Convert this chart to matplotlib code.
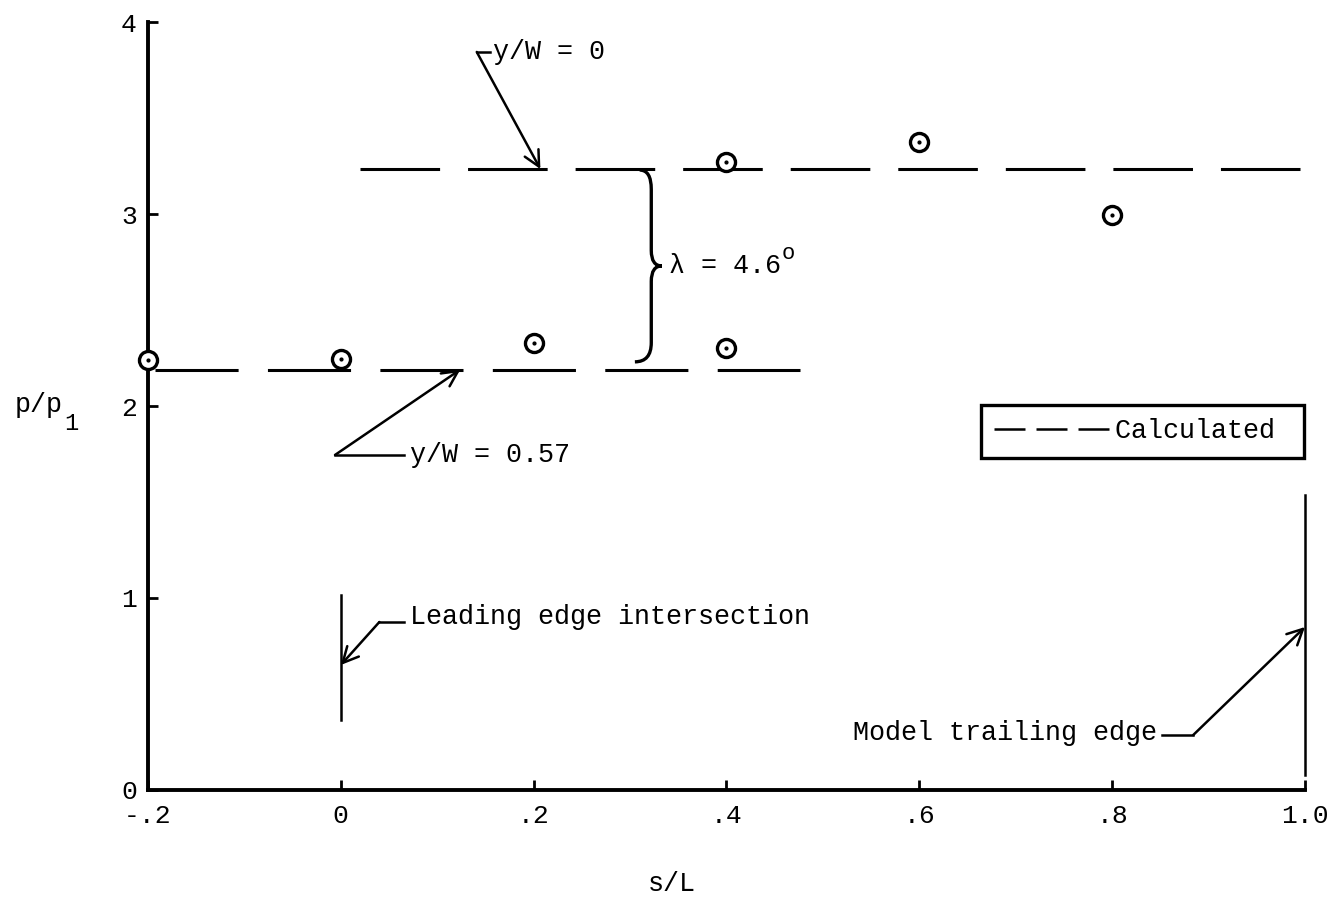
import matplotlib
matplotlib.use('Agg')
import matplotlib.pyplot as plt
from matplotlib.lines import Line2D
from matplotlib.path import Path
from matplotlib.patches import PathPatch

# Measured pressure ratios along the surface
s_meas = [-0.2, 0.0, 0.2, 0.4, 0.4, 0.6, 0.8]
p_meas = [2.24, 2.245, 2.33, 3.27, 2.30, 3.375, 2.995]

# Calculated levels for the two spanwise stations
calc_s_upper = [0.0198, 0.9946]
calc_p_upper = [3.234, 3.234]
calc_s_lower = [-0.1927, 0.4761]
calc_p_lower = [2.19, 2.19]

# Leading edge / trailing edge markers
s_leading = 0.0
s_trailing = 1.0

xticks = [-0.2, 0.0, 0.2, 0.4, 0.6, 0.8, 1.0]
xticklabels = ['-.2', '0', '.2', '.4', '.6', '.8', '1.0']
yticks = [0, 1, 2, 3, 4]
yticklabels = ['0', '1', '2', '3', '4']

plt.rcParams['font.family'] = ['Liberation Mono', 'DejaVu Sans Mono']

fig = plt.figure(figsize=(13.33, 9.17), dpi=100)
ax = fig.add_axes([0.111, 0.1385, 0.868, 0.8375])
ax.set_xlim(-0.2, 1.0)
ax.set_ylim(0, 4)

for side in ['top', 'right']:
    ax.spines[side].set_visible(False)
for side in ['left', 'bottom']:
    ax.spines[side].set_linewidth(2.8)

ax.set_xticks(xticks)
ax.set_xticklabels(xticklabels)
ax.set_yticks(yticks)
ax.set_yticklabels(yticklabels)
ax.tick_params(direction='in', length=7, width=2, labelsize=19)
ax.tick_params(axis='x', pad=10)
ax.tick_params(axis='y', pad=8)

ax.plot(calc_s_upper, calc_p_upper, color='black', lw=2.2, dashes=(26.05, 9.15))
ax.plot(calc_s_lower, calc_p_lower, color='black', lw=2.2, dashes=(27.2, 9.6))

ax.plot(s_meas, p_meas, 'o', ms=13, mfc='white', mec='black', mew=2.4,
        clip_on=False, zorder=5)
ax.plot(s_meas, p_meas, '.', ms=4, color='black', clip_on=False, zorder=6)

# edge marker lines
ax.plot([s_leading, s_leading], [0.365, 1.016], color='black', lw=1.8)
ax.plot([s_trailing, s_trailing], [0.078, 1.536], color='black', lw=1.8,
        clip_on=False)

arrow = dict(arrowstyle='->', color='black', lw=1.8, mutation_scale=28,
             shrinkA=0, shrinkB=0)
fs = 19.3

# y/W = 0
ax.plot([0.141, 0.155], [3.844, 3.844], color='black', lw=1.8)
ax.annotate('', xy=(0.207, calc_p_upper[0]), xytext=(0.141, 3.844),
            arrowprops=arrow)
ax.text(0.158, 3.844, 'y/W = 0', fontsize=fs, va='center')

# y/W = 0.57
ax.plot([-0.006, 0.066], [1.745, 1.745], color='black', lw=1.8)
ax.annotate('', xy=(0.124, calc_p_lower[0]), xytext=(-0.006, 1.745),
            arrowprops=arrow)
ax.text(0.072, 1.745, 'y/W = 0.57', fontsize=fs, va='center')

# leading edge
ax.plot([0.040, 0.066], [0.875, 0.875], color='black', lw=1.8)
ax.annotate('', xy=(s_leading, 0.651), xytext=(0.040, 0.875),
            arrowprops=arrow)
ax.text(0.072, 0.90, 'Leading edge intersection', fontsize=fs, va='center')

# trailing edge
ax.plot([0.852, 0.884], [0.286, 0.286], color='black', lw=1.8)
ax.annotate('', xy=(s_trailing, 0.849), xytext=(0.884, 0.286),
            arrowprops=arrow, annotation_clip=False)
ax.text(0.847, 0.297, 'Model trailing edge', fontsize=fs, va='center',
        ha='right')

# brace between the two calculated levels
ytop = calc_p_upper[0] - 0.005
ybot = calc_p_lower[0] + 0.04
ymid = 0.5 * (ytop + ybot)
x0, xm, xt = 0.310, 0.322, 0.333
verts = [(x0, ytop), (xm, ytop), (xm, ytop - 0.1),
         (xm, ymid + 0.08), (xm, ymid), (xt, ymid),
         (xm, ymid), (xm, ymid - 0.08),
         (xm, ybot + 0.1), (xm, ybot), (x0 - 0.005, ybot)]
codes = [Path.MOVETO, Path.CURVE3, Path.CURVE3,
         Path.LINETO, Path.CURVE3, Path.CURVE3,
         Path.CURVE3, Path.CURVE3,
         Path.LINETO, Path.CURVE3, Path.CURVE3]
ax.add_patch(PathPatch(Path(verts, codes), fill=False, lw=2.4,
                       edgecolor='black'))
lam = ax.text(0.340, ymid, 'λ = 4.6', fontsize=fs, va='center')
ax.annotate('o', xy=(1, 0.5), xycoords=lam, xytext=(1, 9),
            textcoords='offset points', fontsize=16, va='center')

# legend
proxy = Line2D([], [], color='black', lw=1.8, dashes=(12.4, 4.4))
leg = ax.legend([proxy], ['Calculated '], loc='upper right',
                bbox_to_anchor=(0.9991, 0.5013), borderaxespad=0,
                fontsize=fs, handlelength=4.3, handletextpad=0.2,
                borderpad=0.5, fancybox=False, framealpha=1,
                edgecolor='black')
leg.get_frame().set_linewidth(2.4)

# y axis label with a lowered subscript
ax.text(-0.115, 0.501, 'p/p', fontsize=fs, transform=ax.transAxes,
        ha='left', va='center')
ax.text(-0.0726, 0.477, '1', fontsize=17, transform=ax.transAxes,
        ha='left', va='center')

ax.set_xlabel('s/L', fontsize=fs)
ax.xaxis.set_label_coords(0.453, -0.105)

fig.savefig('out.png', dpi=100)
